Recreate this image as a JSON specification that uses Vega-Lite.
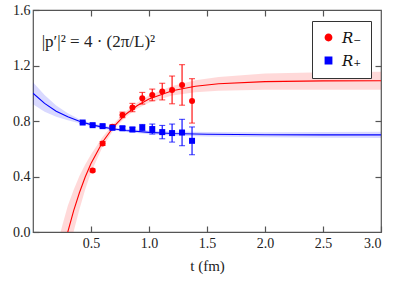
{
  "$schema": "https://vega.github.io/schema/vega-lite/v6.json",
  "width": 348,
  "height": 222,
  "autosize": "none",
  "padding": {"left": 33, "top": 10, "right": 18, "bottom": 53},
  "background": "white",
  "config": {
    "view": {"stroke": "#555555", "strokeWidth": 1.2},
    "font": "Liberation Serif",
    "axis": {"grid": false, "domain": false, "labelFont": "Liberation Serif", "titleFont": "Liberation Serif", "labelColor": "#222", "tickColor": "#555555", "tickWidth": 1.2}
  },
  "datasets": {
    "curve": [
      {"series": "R₊", "t": 0.0, "v": 1.000, "lo": 0.920, "hi": 1.080},
      {"series": "R₊", "t": 0.1, "v": 0.927, "lo": 0.867, "hi": 0.987},
      {"series": "R₊", "t": 0.2, "v": 0.871, "lo": 0.831, "hi": 0.911},
      {"series": "R₊", "t": 0.3, "v": 0.830, "lo": 0.805, "hi": 0.855},
      {"series": "R₊", "t": 0.4, "v": 0.798, "lo": 0.783, "hi": 0.813},
      {"series": "R₊", "t": 0.5, "v": 0.774, "lo": 0.762, "hi": 0.786},
      {"series": "R₊", "t": 0.6, "v": 0.756, "lo": 0.745, "hi": 0.767},
      {"series": "R₊", "t": 0.7, "v": 0.742, "lo": 0.731, "hi": 0.753},
      {"series": "R₊", "t": 0.8, "v": 0.732, "lo": 0.720, "hi": 0.744},
      {"series": "R₊", "t": 1.0, "v": 0.718, "lo": 0.705, "hi": 0.731},
      {"series": "R₊", "t": 1.2, "v": 0.710, "lo": 0.696, "hi": 0.724},
      {"series": "R₊", "t": 1.5, "v": 0.705, "lo": 0.689, "hi": 0.721},
      {"series": "R₊", "t": 2.0, "v": 0.701, "lo": 0.683, "hi": 0.719},
      {"series": "R₊", "t": 2.5, "v": 0.700, "lo": 0.679, "hi": 0.721},
      {"series": "R₊", "t": 3.0, "v": 0.700, "lo": 0.677, "hi": 0.723},
      {"series": "R₋", "t": 0.2, "v": -0.386, "lo": -0.636, "hi": -0.136},
      {"series": "R₋", "t": 0.25, "v": -0.180, "lo": -0.400, "hi": 0.040},
      {"series": "R₋", "t": 0.3, "v": 0.000, "lo": -0.190, "hi": 0.190},
      {"series": "R₋", "t": 0.35, "v": 0.152, "lo": 0.002, "hi": 0.302},
      {"series": "R₋", "t": 0.4, "v": 0.283, "lo": 0.163, "hi": 0.403},
      {"series": "R₋", "t": 0.45, "v": 0.396, "lo": 0.306, "hi": 0.486},
      {"series": "R₋", "t": 0.5, "v": 0.494, "lo": 0.429, "hi": 0.559},
      {"series": "R₋", "t": 0.6, "v": 0.649, "lo": 0.614, "hi": 0.684},
      {"series": "R₋", "t": 0.7, "v": 0.764, "lo": 0.742, "hi": 0.786},
      {"series": "R₋", "t": 0.8, "v": 0.849, "lo": 0.829, "hi": 0.869},
      {"series": "R₋", "t": 0.9, "v": 0.912, "lo": 0.890, "hi": 0.934},
      {"series": "R₋", "t": 1.0, "v": 0.958, "lo": 0.932, "hi": 0.984},
      {"series": "R₋", "t": 1.2, "v": 1.018, "lo": 0.983, "hi": 1.053},
      {"series": "R₋", "t": 1.4, "v": 1.051, "lo": 1.008, "hi": 1.094},
      {"series": "R₋", "t": 1.6, "v": 1.068, "lo": 1.018, "hi": 1.118},
      {"series": "R₋", "t": 2.0, "v": 1.084, "lo": 1.026, "hi": 1.142},
      {"series": "R₋", "t": 2.5, "v": 1.089, "lo": 1.026, "hi": 1.152},
      {"series": "R₋", "t": 3.0, "v": 1.090, "lo": 1.025, "hi": 1.155}
    ],
    "pts": [
      {"series": "R₋", "t": 0.514, "v": 0.444, "err": 0.010},
      {"series": "R₋", "t": 0.600, "v": 0.638, "err": 0.014},
      {"series": "R₋", "t": 0.685, "v": 0.758, "err": 0.015},
      {"series": "R₋", "t": 0.771, "v": 0.844, "err": 0.020},
      {"series": "R₋", "t": 0.857, "v": 0.897, "err": 0.030},
      {"series": "R₋", "t": 0.942, "v": 0.964, "err": 0.042},
      {"series": "R₋", "t": 1.028, "v": 0.988, "err": 0.042},
      {"series": "R₋", "t": 1.114, "v": 1.012, "err": 0.060},
      {"series": "R₋", "t": 1.199, "v": 1.024, "err": 0.100},
      {"series": "R₋", "t": 1.285, "v": 1.060, "err": 0.146},
      {"series": "R₋", "t": 1.371, "v": 0.945, "err": 0.160},
      {"series": "R₊", "t": 0.428, "v": 0.789, "err": 0.008},
      {"series": "R₊", "t": 0.514, "v": 0.770, "err": 0.008},
      {"series": "R₊", "t": 0.600, "v": 0.763, "err": 0.008},
      {"series": "R₊", "t": 0.685, "v": 0.751, "err": 0.010},
      {"series": "R₊", "t": 0.771, "v": 0.748, "err": 0.012},
      {"series": "R₊", "t": 0.857, "v": 0.739, "err": 0.015},
      {"series": "R₊", "t": 0.942, "v": 0.753, "err": 0.022},
      {"series": "R₊", "t": 1.028, "v": 0.742, "err": 0.036},
      {"series": "R₊", "t": 1.114, "v": 0.720, "err": 0.048},
      {"series": "R₊", "t": 1.199, "v": 0.713, "err": 0.065},
      {"series": "R₊", "t": 1.285, "v": 0.717, "err": 0.095},
      {"series": "R₊", "t": 1.371, "v": 0.657, "err": 0.100}
    ],
    "label": [
      {"t": 0.075, "v": 1.37, "text": "|p′|² = 4 · (2π/L)²"}
    ]
  },
  "resolve": {"axis": {"x": "independent", "y": "independent"}},
  "encoding": {
    "color": {"field": "series", "type": "nominal", "scale": {"domain": ["R₋", "R₊"], "range": ["#ff0000", "#0000ff"]},
      "legend": {"orient": "none", "legendX": 279, "legendY": 11, "title": null, "strokeColor": "#333", "fillColor": "white", "padding": 9, "labelFont": "DejaVu Serif", "labelFontStyle": "italic", "labelFontSize": 15, "labelColor": "#111", "symbolSize": 40, "rowPadding": 7, "labelOffset": 6, "symbolOpacity": 1}}
  },
  "layer": [
    {
      "data": {"name": "curve"},
      "mark": {"type": "area", "clip": true, "opacity": 0.15},
      "encoding": {
        "x": {"field": "t", "type": "quantitative", "scale": {"domain": [0, 3], "nice": false},
          "axis": {"orient": "bottom", "values": [0.5, 1.0, 1.5, 2.0, 2.5, 3.0], "format": ".1f", "tickSize": -6, "labelPadding": 10, "labelFontSize": 14, "title": "t (fm)", "titleFontSize": 15, "titleFontWeight": "normal", "titlePadding": 8, "titleColor": "#222"}},
        "y": {"field": "lo", "type": "quantitative", "scale": {"domain": [0, 1.6], "nice": false},
          "axis": {"orient": "left", "values": [0, 0.4, 0.8, 1.2, 1.6], "format": ".1f", "tickSize": -6, "labelPadding": 9, "labelFontSize": 14, "title": null}},
        "y2": {"field": "hi"}
      }
    },
    {
      "data": {"name": "curve"},
      "mark": {"type": "line", "clip": true, "strokeWidth": 1.1},
      "encoding": {
        "x": {"field": "t", "type": "quantitative", "axis": {"orient": "top", "values": [0.5, 1.0, 1.5, 2.0, 2.5], "labels": false, "tickSize": -6, "title": null}},
        "y": {"field": "v", "type": "quantitative", "axis": {"orient": "right", "values": [0.4, 0.8, 1.2], "labels": false, "tickSize": -6, "title": null}}
      }
    },
    {
      "data": {"name": "pts"},
      "mark": {"type": "errorbar", "ticks": {"size": 6}, "thickness": 1.1},
      "encoding": {
        "x": {"field": "t", "type": "quantitative", "axis": null},
        "y": {"field": "v", "type": "quantitative", "axis": null},
        "yError": {"field": "err"}
      }
    },
    {
      "data": {"name": "pts"},
      "mark": {"type": "point", "filled": true, "opacity": 1, "size": 36},
      "encoding": {
        "x": {"field": "t", "type": "quantitative", "axis": null},
        "y": {"field": "v", "type": "quantitative", "axis": null},
        "shape": {"field": "series", "type": "nominal", "scale": {"domain": ["R₋", "R₊"], "range": ["circle", "square"]},
          "legend": {"orient": "none", "legendX": 279, "legendY": 11, "title": null, "strokeColor": "#333", "fillColor": "white", "padding": 9, "labelFont": "DejaVu Serif", "labelFontStyle": "italic", "labelFontSize": 15, "labelColor": "#111", "symbolSize": 40, "rowPadding": 7, "labelOffset": 6, "symbolOpacity": 1}}
      }
    },
    {
      "data": {"name": "label"},
      "mark": {"type": "text", "align": "left", "baseline": "middle", "font": "Liberation Serif", "fontSize": 17},
      "encoding": {
        "x": {"field": "t", "type": "quantitative", "axis": null},
        "y": {"field": "v", "type": "quantitative", "axis": null},
        "text": {"field": "text"},
        "color": {"value": "#222"}
      }
    }
  ]
}
